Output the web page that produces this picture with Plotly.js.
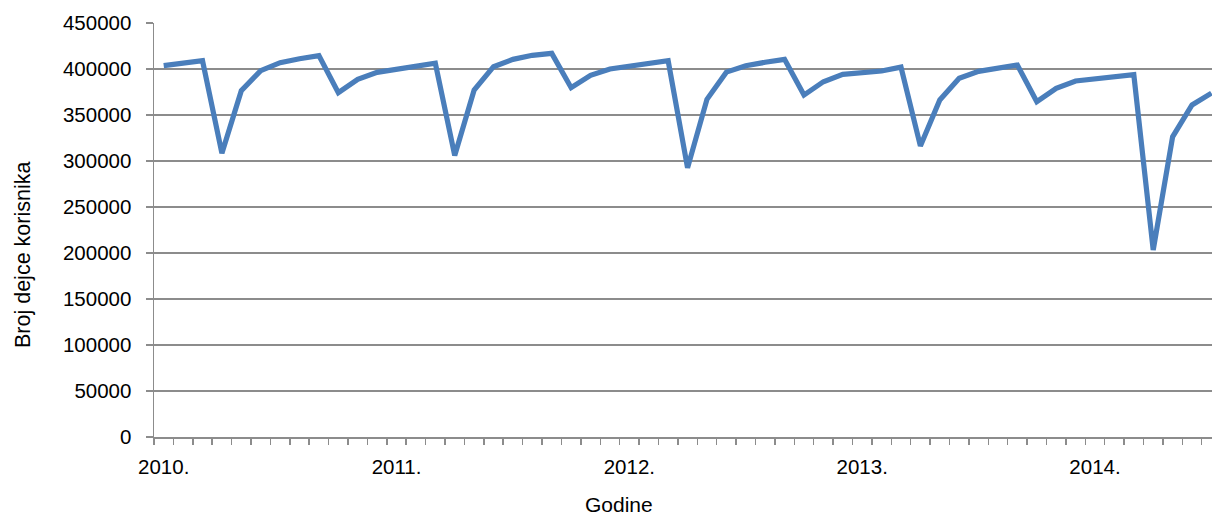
<!DOCTYPE html>
<html>
<head>
<meta charset="utf-8">
<script src="https://cdn.plot.ly/plotly-3.0.1.min.js"></script>
<style>
  html, body { margin: 0; padding: 0; background: #ffffff; }
  #chart { width: 1212px; height: 516px; }
</style>
</head>
<body>
<div id="chart"></div>
<script>
// Monthly categories Jan 2010 .. Jul 2014
const months = [
  "2010-01","2010-02","2010-03","2010-04","2010-05","2010-06","2010-07","2010-08","2010-09","2010-10","2010-11","2010-12",
  "2011-01","2011-02","2011-03","2011-04","2011-05","2011-06","2011-07","2011-08","2011-09","2011-10","2011-11","2011-12",
  "2012-01","2012-02","2012-03","2012-04","2012-05","2012-06","2012-07","2012-08","2012-09","2012-10","2012-11","2012-12",
  "2013-01","2013-02","2013-03","2013-04","2013-05","2013-06","2013-07","2013-08","2013-09","2013-10","2013-11","2013-12",
  "2014-01","2014-02","2014-03","2014-04","2014-05","2014-06","2014-07"
];

// Number of child users (Broj dejce korisnika)
const users = [
  403600, 406300, 409000, 308400, 376400, 398200, 406900, 411200, 414500, 374300, 388800, 396400,
  399700, 402500, 406200, 306000, 377200, 402500, 410500, 414900, 417000, 379700, 393100, 400000,
  403300, 406200, 409000, 292500, 367000, 396600, 403600, 407300, 410500, 371700, 386200, 394200,
  396000, 397800, 402000, 316300, 366300, 389900, 397400, 400800, 404300, 364500, 379000, 387000,
  389000, 391200, 393800, 203300, 326300, 360900, 373800
];

// Year labels placed on the first month of each year
const yearLabels = ["2010.", "2011.", "2012.", "2013.", "2014."];
const yearTickIdx = yearLabels.map(l => months.indexOf(l.slice(0, 4) + "-01"));

const idx = months.map((m, i) => i);

const FONT = "'Liberation Sans', Arial, sans-serif";
const GRID = "#8c8c8c";

const trace = {
  x: idx,
  y: users,
  text: months,
  type: "scatter",
  mode: "lines",
  line: { color: "#4a7ebb", width: 5.2, shape: "linear" },
  hoverinfo: "text+y"
};

const plotLeft = 154, plotRight = 1212, plotTop = 23, plotBottom = 437;
const pw = plotRight - plotLeft, ph = plotBottom - plotTop;

const layout = {
  width: 1212,
  height: 516,
  margin: { l: plotLeft, r: 1212 - plotRight, t: plotTop, b: 516 - plotBottom, pad: 0 },
  paper_bgcolor: "#ffffff",
  plot_bgcolor: "#ffffff",
  showlegend: false,
  font: { family: FONT, size: 20.5, color: "#000000" },
  xaxis: {
    range: [-0.5, 54.03],
    tickmode: "array",
    tickvals: yearTickIdx,
    ticktext: yearLabels,
    ticks: "",
    ticklen: 0,
    ticklabelstandoff: 11,
    tickfont: { family: FONT, size: 20.5, color: "#000000" },
    showgrid: false,
    zeroline: false,
    showline: true,
    linecolor: GRID,
    linewidth: 1.5,
    minor: {
      tickmode: "linear",
      tick0: -0.5,
      dtick: 1,
      ticks: "outside",
      ticklen: 6,
      tickwidth: 1.5,
      tickcolor: GRID,
      showgrid: false
    },
    fixedrange: true
  },
  yaxis: {
    range: [0, 450000],
    tickmode: "linear",
    tick0: 0,
    dtick: 50000,
    tickformat: "d",
    ticks: "outside",
    ticklen: 7,
    tickwidth: 1.5,
    tickcolor: GRID,
    ticklabelstandoff: 10,
    tickfont: { family: FONT, size: 20.5, color: "#000000" },
    showgrid: true,
    gridcolor: GRID,
    gridwidth: 1.5,
    zeroline: false,
    showline: true,
    linecolor: GRID,
    linewidth: 1.5,
    fixedrange: true
  },
  annotations: [
    {
      text: "Broj dejce korisnika",
      xref: "paper", yref: "paper",
      x: (23 - plotLeft) / pw,
      y: (plotBottom - 255) / ph,
      xanchor: "center", yanchor: "middle",
      textangle: -90,
      showarrow: false,
      font: { family: FONT, size: 21.5, color: "#000000" }
    },
    {
      text: "Godine",
      xref: "paper", yref: "paper",
      x: (619 - plotLeft) / pw,
      y: (plotBottom - 504) / ph,
      xanchor: "center", yanchor: "middle",
      showarrow: false,
      font: { family: FONT, size: 21, color: "#000000" }
    }
  ]
};

Plotly.newPlot("chart", [trace], layout, { displayModeBar: false, staticPlot: true });
</script>
</body>
</html>
